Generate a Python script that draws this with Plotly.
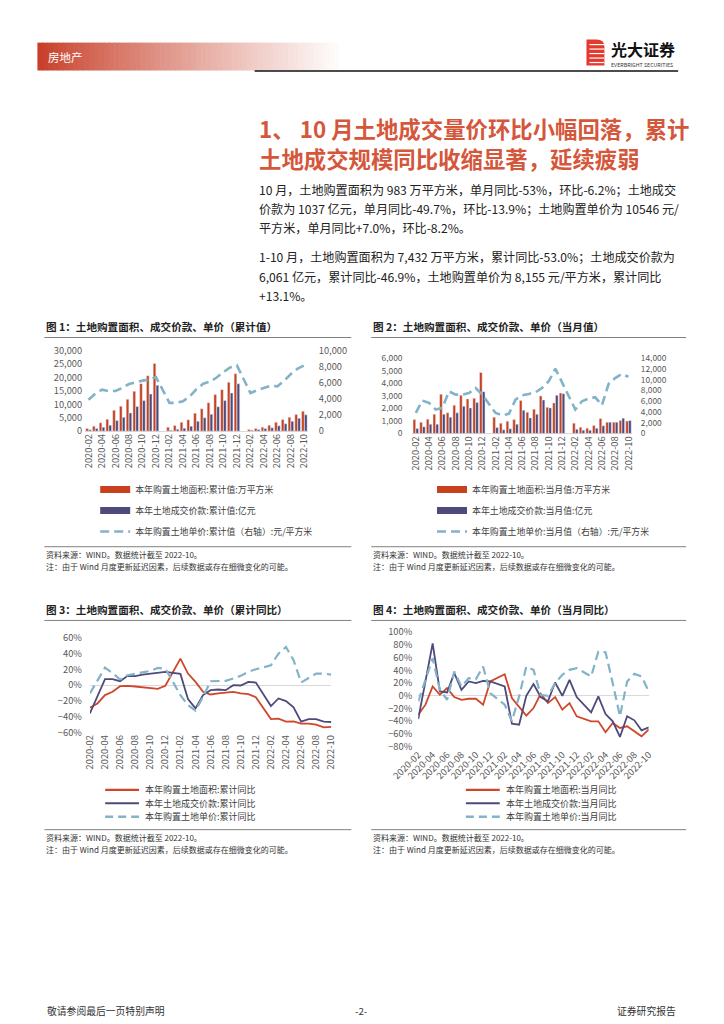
import plotly.graph_objects as go

W, H = 724, 1024
FONT = "Noto Sans CJK SC"
RED = "#C9401F"
RED2 = "#D0462A"
PURPLE = "#4E4A7A"
BLUE = "#82B3C8"
TICK = "#595959"

# ---------------- data ----------------
months = ["2020-02", "2020-03", "2020-04", "2020-05", "2020-06", "2020-07", "2020-08", "2020-09",
          "2020-10", "2020-11", "2020-12", "2021-01", "2021-02", "2021-03", "2021-04", "2021-05",
          "2021-06", "2021-07", "2021-08", "2021-09", "2021-10", "2021-11", "2021-12", "2022-01",
          "2022-02", "2022-03", "2022-04", "2022-05", "2022-06", "2022-07", "2022-08", "2022-09",
          "2022-10"]
tick_months = months[::2]

# Chart 1: cumulative values
area_cum = [990, 1850, 3090, 4440, 7780, 9260, 11850, 14800, 17650, 20600, 25190, None,
            1480, 2100, 3330, 4200, 6700, 8350, 10600, 13580, 15430, 18150, 21360, None,
            620, 990, 1480, 2220, 3330, 4320, 5190, 6170, 7432]
price_cum = [490, 990, 1480, 2220, 3950, 5190, 6790, 9140, 11360, 13830, 17100, None,
             370, 740, 1110, 1850, 3700, 5000, 6300, 9080, 11360, 14200, 17600, None,
             370, 620, 990, 1230, 1980, 2720, 3700, 4810, 6061]
unit_cum = [3900, 4650, 5140, 4950, 4980, 5350, 5840, 6090, 6260, 6380, 6700, None,
            3500, 3500, 3700, 4300, 5200, 5870, 6130, 6650, 7320, 7900, 8150, None,
            4730, 5060, 5350, 5640, 5560, 6250, 7080, 7740, 8155]

# Chart 2: monthly values
area_m = [1110, 900, 1140, 1530, 3120, 1640, 2250, 3040, 2750, 2800, 4860, None,
          1300, 820, 980, 1110, 2620, 1690, 1930, 2990, 2090, 2430, 3220, None,
          820, 500, 420, 630, 1190, 900, 900, 1030, 983]
price_m = [400, 530, 740, 740, 1530, 1300, 1640, 2170, 2035, 2460, 3330, None,
           475, 290, 370, 740, 1850, 1240, 1530, 2670, 2035, 3040, 3170, None,
           340, 260, 260, 420, 610, 900, 900, 1220, 1037]
unit_m = [3820, 6100, 5670, 4440, 4750, 7830, 7215, 7215, 7520, 8450, 7200, None,
          3800, 3400, 3640, 6290, 7090, 7340, 7650, 8450, 9700, 12030, 9400, None,
          4440, 5980, 6470, 6720, 5240, 9190, 10300, 11040, 10546]

# Chart 3: cumulative YoY (%)
area_cum_yoy = [-28.8, -23.4, -12.8, -8.6, -1.5, -1.0, -1.9, -2.7, -3.2, -4.8, -1.0, None,
                33.5, 14.5, 4.0, -8.6, -12.0, -10.7, -9.9, -8.6, -10.7, -11.6, -15.5, None,
                -43.2, -42.7, -46.5, -46.0, -49.0, -49.0, -50.3, -53.7, -53.0]
price_cum_yoy = [-36.0, -15.0, 7.4, 7.4, 4.8, 11.6, 11.2, 13.3, 14.5, 15.8, 16.6, None,
                 14.1, -17.9, -29.7, -12.8, -6.5, -5.7, -6.5, -0.2, -0.6, 4.0, 3.2, None,
                 -26.7, -17.0, -20.4, -28.4, -46.5, -43.2, -43.2, -46.5, -46.9]
unit_cum_yoy = [-10.7, 5.0, 22.0, 15.0, 7.0, 12.4, 14.1, 16.6, 17.9, 21.7, 20.8, None,
                -12.8, -25.5, -32.6, -15.0, 4.8, 4.8, 5.3, 8.2, 11.6, 16.6, 20.0, None,
                25.0, 39.8, 48.2, 31.4, 3.2, 9.0, 14.5, 14.5, 13.1]

# Chart 4: monthly YoY (%)
area_m_yoy = [-29.7, -14.0, 14.6, 1.6, 12.0, -2.0, -6.3, -4.7, -4.7, -14.0, 22.4, None,
              33.9, -3.7, -17.7, -31.3, -19.3, 3.1, -11.5, -2.0, -21.9, -11.5, -32.3, None,
              -40.2, -40.2, -57.4, -42.8, -50.6, -48.0, -55.8, -63.7, -53.0]
price_m_yoy = [-36.5, 20.0, 82.4, 6.8, 5.2, 35.5, 9.4, 22.4, 19.8, 23.5, 22.4, None,
               14.6, -43.8, -45.4, 0.0, 18.3, -2.0, -8.9, 20.9, 0.0, 25.0, -2.0, None,
               -26.1, -1.0, -28.7, -40.2, -64.7, -32.3, -38.6, -54.3, -49.7]
unit_m_yoy = [-8.9, 25.0, 59.0, 9.4, -6.3, 38.0, 14.6, 27.7, 26.0, 45.9, 4.0, None,
              -14.0, -40.0, -1.0, 46.0, 40.7, 1.6, 0.0, 19.8, 32.9, 40.7, 43.3, None,
              30.3, 69.4, 68.4, 19.8, -32.3, 22.4, 34.4, 30.3, 7.0]

names1 = ["本年购置土地面积:累计值:万平方米", "本年土地成交价款:累计值:亿元",
          "本年购置土地单价:累计值（右轴）:元/平方米"]
names2 = ["本年购置土地面积:当月值:万平方米", "本年土地成交价款:当月值:亿元",
          "本年购置土地单价:当月值（右轴）:元/平方米"]
names3 = ["本年购置土地面积:累计同比", "本年土地成交价款:累计同比", "本年购置土地单价:累计同比"]
names4 = ["本年购置土地面积:当月同比", "本年土地成交价款:当月同比", "本年购置土地单价:当月同比"]

# ---------------- page geometry helpers ----------------
# positions below are given in target-page pixels and mapped to figure pixels
SX, OX = 0.955, 36.6
SY, OY = 0.99, 13.3


def fx(x):
    return (x - OX) / SX


def fy(y):
    return (y - OY) / SY


def px(x):
    return fx(x) / W


def py(y):
    return 1 - fy(y) / H


fig = go.Figure()
DASH = "9px,5px"

# ---- Chart 1 ----
fig.add_trace(go.Bar(x=months, y=area_cum, marker_color=RED, xaxis="x", yaxis="y",
                     showlegend=False, name=names1[0]))
fig.add_trace(go.Bar(x=months, y=price_cum, marker_color=PURPLE, xaxis="x", yaxis="y",
                     showlegend=False, name=names1[1]))
fig.add_trace(go.Scatter(x=months, y=unit_cum, mode="lines", connectgaps=True,
                         line=dict(color=BLUE, width=2.6, dash=DASH), xaxis="x", yaxis="y2",
                         showlegend=False, name=names1[2]))
# ---- Chart 2 ----
fig.add_trace(go.Bar(x=months, y=area_m, marker_color=RED, xaxis="x2", yaxis="y3",
                     showlegend=False, name=names2[0]))
fig.add_trace(go.Bar(x=months, y=price_m, marker_color=PURPLE, xaxis="x2", yaxis="y3",
                     showlegend=False, name=names2[1]))
fig.add_trace(go.Scatter(x=months, y=unit_m, mode="lines", connectgaps=True,
                         line=dict(color=BLUE, width=2.6, dash=DASH), xaxis="x2", yaxis="y4",
                         showlegend=False, name=names2[2]))
# ---- Chart 3 ----
for vals, col, nm, dash, w in [(area_cum_yoy, RED2, names3[0], "solid", 1.8),
                               (price_cum_yoy, PURPLE, names3[1], "solid", 1.8),
                               (unit_cum_yoy, BLUE, names3[2], DASH, 2.2)]:
    fig.add_trace(go.Scatter(x=months, y=vals, mode="lines", connectgaps=True,
                             line=dict(color=col, width=w, dash=dash), xaxis="x3", yaxis="y5",
                             name=nm, showlegend=False))
# ---- Chart 4 ----
for vals, col, nm, dash, w in [(area_m_yoy, RED2, names4[0], "solid", 1.8),
                               (price_m_yoy, PURPLE, names4[1], "solid", 1.8),
                               (unit_m_yoy, BLUE, names4[2], DASH, 2.2)]:
    fig.add_trace(go.Scatter(x=months, y=vals, mode="lines", connectgaps=True,
                             line=dict(color=col, width=w, dash=dash), xaxis="x4", yaxis="y6",
                             name=nm, showlegend=False))

# legend entries for charts 1 and 2 (wide swatches as in the original)
for k, (nm, col, w, dash) in enumerate([(names1[0], RED, 7, "solid"), (names1[1], PURPLE, 7, "solid"),
                                        (names1[2], BLUE, 2.6, DASH)]):
    fig.add_trace(go.Scatter(x=[None], y=[None], mode="lines", name=nm, xaxis="x", yaxis="y",
                             line=dict(color=col, width=w, dash=dash), legend="legend",
                             legendgroup="a%d" % k))
for k, (nm, col, w, dash) in enumerate([(names2[0], RED, 7, "solid"), (names2[1], PURPLE, 7, "solid"),
                                        (names2[2], BLUE, 2.6, DASH)]):
    fig.add_trace(go.Scatter(x=[None], y=[None], mode="lines", name=nm, xaxis="x2", yaxis="y3",
                             line=dict(color=col, width=w, dash=dash), legend="legend2",
                             legendgroup="b%d" % k))

tickfont = dict(family=FONT, size=9.3, color=TICK)
tickfont_small = dict(family=FONT, size=8.4, color=TICK)


def xcat(x0, x1, anchor, angle):
    return dict(domain=[px(x0), px(x1)], anchor=anchor, type="category", categoryorder="array",
                categoryarray=months, tickvals=tick_months, ticktext=tick_months,
                tickangle=angle, tickfont=tickfont, showgrid=False, showline=False,
                zeroline=False, ticks="", fixedrange=True)


def yax(y0, y1, anchor, rng, dtick, fmt, side="left", overlay=None, zl=True, standoff=None,
        suffix="", tf=None):
    d = dict(domain=[py(y0), py(y1)], anchor=anchor, range=rng, dtick=dtick, tickformat=fmt,
             side=side, showgrid=False, zeroline=zl, zerolinecolor="#D9D9D9", zerolinewidth=1.2,
             showline=False, ticks="", tickfont=tf or tickfont, ticksuffix=suffix,
             fixedrange=True)
    if overlay:
        d["overlaying"] = overlay
    if standoff is not None:
        d["ticklabelstandoff"] = standoff
    return d


legfont = dict(family=FONT, size=8.9, color="#404040")

fig.update_layout(
    width=W, height=H, margin=dict(l=0, r=0, t=0, b=0),
    paper_bgcolor="white", plot_bgcolor="rgba(0,0,0,0)",
    font=dict(family=FONT, color="#333333"),
    barmode="group", bargap=0.14, bargroupgap=0.08,
    xaxis=xcat(84.9, 308.3, "y", -90),
    yaxis=yax(430, 349, "x", [0, 30000], 5000, ",", standoff=2),
    yaxis2=yax(430, 349, "x", [0, 10000], 2000, ",", side="right", overlay="y",
               zl=False, standoff=10),
    xaxis2=xcat(413.4, 633.5, "y3", -90),
    yaxis3=yax(432.3, 356.7, "x2", [0, 6000], 1000, ",", standoff=9, tf=tickfont_small),
    yaxis4=yax(432.3, 356.7, "x2", [0, 14000], 2000, ",", side="right",
               overlay="y3", zl=False, standoff=8, tf=tickfont_small),
    xaxis3=xcat(89.7, 331.9, "y5", -90),
    yaxis5=yax(732.3, 637.3, "x3", [-60, 60], 20, "d", standoff=7, suffix="%"),
    xaxis4=xcat(419.2, 650.5, "y6", -45),
    yaxis6=yax(746.7, 631.7, "x4", [-80, 100], 20, "d", standoff=5, suffix="%"),
    legend=dict(x=px(95), y=py(474), xanchor="left", yanchor="top", font=legfont,
                bgcolor="rgba(0,0,0,0)", tracegroupgap=2, itemwidth=30),
    legend2=dict(x=px(433), y=py(474), xanchor="left", yanchor="top", font=legfont,
                 bgcolor="rgba(0,0,0,0)", tracegroupgap=2, itemwidth=30),
)

shapes = []
annos = []


def text(x, y, s, size, color="#333333", anchor="left", bold=False):
    annos.append(dict(x=px(x), y=py(y), xref="paper", yref="paper",
                      text=("<b>%s</b>" % s) if bold else s,
                      showarrow=False, xanchor=anchor, yanchor="middle",
                      font=dict(family=FONT, size=size, color=color)))


def line(x0, y0, x1, y1, color, width, dash="solid"):
    shapes.append(dict(type="line", xref="paper", yref="paper", x0=px(x0), y0=py(y0),
                       x1=px(x1), y1=py(y1), line=dict(color=color, width=width, dash=dash)))


def rect(x0, y0, x1, y1, color):
    shapes.append(dict(type="rect", xref="paper", yref="paper", x0=px(x0), y0=py(y0),
                       x1=px(x1), y1=py(y1), fillcolor=color, line=dict(width=0), layer="below"))


# header gradient bar
n = 60
x_start, x_end = 37, 345
c0 = (200, 64, 42)
for k in range(n):
    t = k / (n - 1)
    f = t ** 0.9
    r = int(c0[0] + (255 - c0[0]) * f)
    g = int(c0[1] + (255 - c0[1]) * f)
    b = int(c0[2] + (255 - c0[2]) * f)
    xa = x_start + (x_end - x_start) * k / n
    xb = x_start + (x_end - x_start) * (k + 1) / n + 0.6
    rect(xa, 40, xb, 68, "rgb(%d,%d,%d)" % (r, g, b))
text(46, 54.5, "房地产", 11.5, "white")
line(255, 68.5, 680, 68.5, "#111111", 1.5)

# logo
shapes.append(dict(type="path", xref="paper", yref="paper",
                   path="M %f %f L %f %f Q %f %f %f %f L %f %f Q %f %f %f %f Z" % (
                       px(588), py(37), px(598), py(37), px(606), py(37), px(606), py(44),
                       px(606), py(63), px(598), py(63), px(588), py(63)),
                   fillcolor="#E23A2C", line=dict(width=0)))
for yy in [42, 46.5, 51, 55.5, 60]:
    line(591, yy, 606, yy, "white", 1.2)
text(611, 46.5, "光大证券", 16, "#111111", bold=True)
text(611, 62.5, "EVERBRIGHT SECURITIES", 5.3, "#333333")

# section title & paragraphs
TCOL = "#D5573B"
text(257, 126, "1、 10 月土地成交量价环比小幅回落，累计", 22.4, TCOL, bold=True)
text(257, 156, "土地成交规模同比收缩显著，延续疲弱", 22.4, TCOL, bold=True)
p1 = ["10 月，土地购置面积为 983 万平方米，单月同比-53%，环比-6.2%；土地成交",
      "价款为 1037 亿元，单月同比-49.7%，环比-13.9%；土地购置单价为 10546 元/",
      "平方米，单月同比+7.0%，环比-8.2%。"]
p2 = ["1-10 月，土地购置面积为 7,432 万平方米，累计同比-53.0%；土地成交价款为",
      "6,061 亿元，累计同比-46.9%，土地购置单价为 8,155 元/平方米，累计同比",
      "+13.1%。"]
for i, s in enumerate(p1):
    text(257, 187 + 19.5 * i, s, 12.1, "#222222")
for i, s in enumerate(p2):
    text(257, 255 + 19.5 * i, s, 12.1, "#222222")

# chart titles and frames
GL = "#808080"
TS = 10.6
text(44, 325, "图 1：土地购置面积、成交价款、单价（累计值）", TS, "#222222", bold=True)
line(44, 336, 352, 336, GL, 1)
text(372, 325, "图 2：土地购置面积、成交价款、单价（当月值）", TS, "#222222", bold=True)
line(372, 336, 688, 336, GL, 1)
text(44, 609, "图 3：土地购置面积、成交价款、单价（累计同比）", TS, "#222222", bold=True)
line(44, 620, 352, 620, GL, 1)
text(372, 609, "图 4：土地购置面积、成交价款、单价（当月同比）", TS, "#222222", bold=True)
line(372, 620, 688, 620, GL, 1)

src = "资料来源：WIND。数据统计截至 2022-10。"
note = "注：由于 Wind 月度更新延迟因素，后续数据或存在细微变化的可能。"
for (x0, x1, yl) in [(44, 352, 546), (372, 688, 546), (44, 352, 830), (372, 688, 830)]:
    line(x0, yl, x1, yl, GL, 1)
    text(x0, yl + 7.5, src, 8, "#333333")
    text(x0, yl + 19.5, note, 8, "#333333")

# legends of charts 3 and 4 (compact rows as in the original)
for (sx0, names) in [(105, names3), (467, names4)]:
    for k, (nm, col, w, dash) in enumerate([(names[0], RED2, 2.2, "solid"),
                                            (names[1], PURPLE, 2.2, "solid"),
                                            (names[2], BLUE, 2.4, "8px,5px")]):
        yy = 790 + 13.5 * k
        line(sx0, yy, sx0 + 34, yy, col, w, dash)
        text(sx0 + 38, yy, nm, 9.0, "#404040")

# footer
text(45, 1012, "敬请参阅最后一页特别声明", 9.8, "#333333")
text(362, 1012, "-2-", 9.8, "#333333", anchor="center")
text(680, 1012, "证券研究报告", 9.8, "#333333", anchor="right")

fig.update_layout(shapes=shapes, annotations=annos)
fig.write_html("out.html")
